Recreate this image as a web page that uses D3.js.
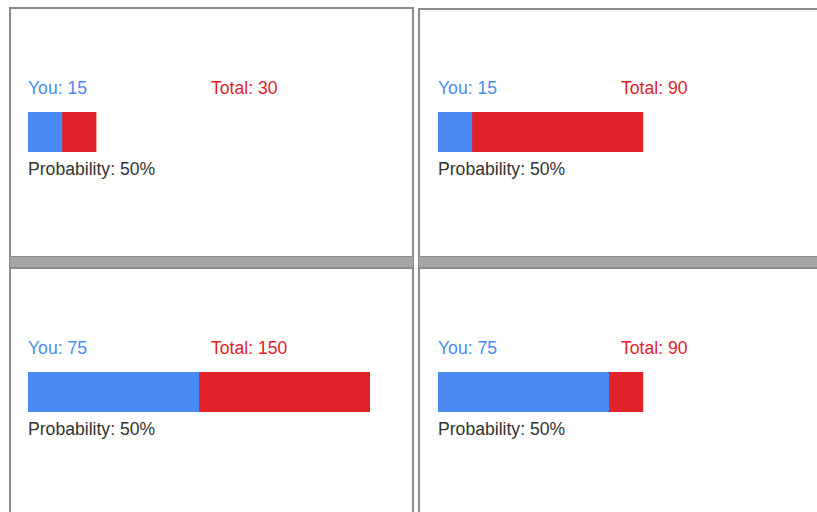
<html>
  <head>
    <meta charset="utf-8">
    <style>
      body { margin: 0; background: #fff; }
      text { font-family: "Liberation Sans", Arial, sans-serif; font-size: 17.6px; }
    </style>
    <script src="https://d3js.org/d3.v7.min.js"></script>
  </head>
  <body>
    <svg id="chart" width="817" height="512"></svg>
    <script>
      // one entry per panel, read left-to-right, top-to-bottom
      const youValues = [15, 15, 75, 75]
      const totalValues = [30, 90, 150, 90]
      const probabilities = [50, 50, 50, 50]

      const blue = "#4a8af2",
            red = "#e1222a"

      const svg = d3.select("#chart")

      // panel grid
      const colX = [9, 418],
            rowY = [7, 267],
            panelW = 405,
            panelH = 250

      const x = d3.scaleLinear()
                  .domain([0, 150])
                  .range([0, 342])

      const panels = youValues.map((you, i) => ({
        you: you,
        total: totalValues[i],
        prob: probabilities[i],
        col: i % 2,
        row: Math.floor(i / 2)
      }))

      const g = svg.selectAll("g.panel")
                   .data(panels)
                   .join("g")
                   .attr("class", "panel")
                   .attr("transform", d => "translate(" + colX[d.col] + "," + rowY[d.row] + ")")

      // frame
      g.append("rect")
       .attr("x", 1)
       .attr("y", d => d.col == 1 && d.row == 0 ? 2 : 1)
       .attr("width", d => d.col == 0 ? panelW - 2 : 817 - colX[1])
       .attr("height", d => d.row == 0 ? panelH - 1 : 300)
       .attr("fill", "#fff")
       .attr("stroke", "#8c8c8c")
       .attr("stroke-width", 2)

      // gray band under the top row
      g.filter(d => d.row == 0)
       .append("rect")
       .attr("x", 0.5)
       .attr("y", 249.5)
       .attr("width", d => d.col == 0 ? panelW - 1 : 817 - colX[1])
       .attr("height", 11)
       .attr("fill", "#a5a5a5")
       .attr("stroke", "#8a8a8a")
       .attr("stroke-width", 1)

      // content starts a pixel further in on the right column
      const left = d => d.col == 0 ? 19 : 20

      g.append("text")
       .attr("x", left)
       .attr("y", 87)
       .attr("fill", blue)
       .text(d => "You: " + d.you)

      g.append("text")
       .attr("x", d => left(d) + 183)
       .attr("y", 87)
       .attr("fill", red)
       .text(d => "Total: " + d.total)

      // full bar = total, blue part = you
      g.append("rect")
       .attr("x", left)
       .attr("y", 105)
       .attr("width", d => x(d.total))
       .attr("height", 40)
       .attr("fill", red)

      g.append("rect")
       .attr("x", left)
       .attr("y", 105)
       .attr("width", d => x(d.you))
       .attr("height", 40)
       .attr("fill", blue)

      g.append("text")
       .attr("x", left)
       .attr("y", 168)
       .attr("fill", "#333")
       .text(d => "Probability: " + d.prob + "%")
    </script>
  </body>
</html>
